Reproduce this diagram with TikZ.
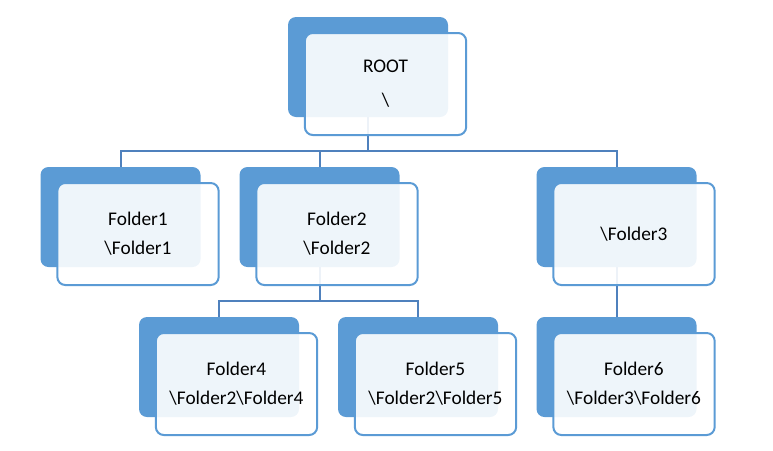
\documentclass[tikz,border=0pt]{standalone}
\usepackage{fontspec}
\setmainfont{Carlito}
\usetikzlibrary{positioning}
\definecolor{boxblue}{HTML}{5B9BD5}
\definecolor{linkblue}{HTML}{4F81BD}

\begin{document}
\begin{tikzpicture}[x=0.75pt,y=-0.75pt,
  back/.style={fill=boxblue,rounded corners=6pt,minimum width=120pt,minimum height=75pt,inner sep=0pt},
  front/.style={draw=boxblue,line width=1.5pt,fill=white,fill opacity=0.9,text opacity=1,rounded corners=6pt,
    minimum width=121pt,minimum height=76.5pt,inner sep=0pt,align=center,font=\fontsize{14.5}{21.5}\selectfont},
  link/.style={draw=linkblue,line width=1.5pt}]
\useasboundingbox (0,0) rectangle (773,450);

\node[back] (rootb) at (368,67) {};
\node[back] (f1b) at (120.5,217) {};
\node[back] (f2b) at (319.5,217) {};
\node[back] (f3b) at (616.5,217) {};
\node[back] (f4b) at (219,367) {};
\node[back] (f5b) at (418,367) {};
\node[back] (f6b) at (616.5,367) {};

\draw[link] (rootb.south) -- ++(0,34) -| (f1b.north);
\draw[link] (rootb.south) -- ++(0,34) -| (f2b.north);
\draw[link] (rootb.south) -- ++(0,34) -| (f3b.north);
\draw[link] (f2b.south) -- ++(0,34) -| (f4b.north);
\draw[link] (f2b.south) -- ++(0,34) -| (f5b.north);
\draw[link] (f3b.south) -- (f6b.north);

\node[front] (root) at ([shift={(17.5,17)}]rootb.center) {ROOT\\[4pt]\textbackslash};
\node[front] (f1) at ([shift={(17.5,17)}]f1b.center) {Folder1\\\textbackslash Folder1};
\node[front] (f2) at ([shift={(17.5,17)}]f2b.center) {Folder2\\\textbackslash Folder2};
\node[front] (f3) at ([shift={(17.5,17)}]f3b.center) {\textbackslash Folder3};
\node[front] (f4) at ([shift={(17.5,17)}]f4b.center) {Folder4\\\textbackslash Folder2\textbackslash Folder4};
\node[front] (f5) at ([shift={(17.5,17)}]f5b.center) {Folder5\\\textbackslash Folder2\textbackslash Folder5};
\node[front] (f6) at ([shift={(17.5,17)}]f6b.center) {Folder6\\\textbackslash Folder3\textbackslash Folder6};

\end{tikzpicture}
\end{document}
